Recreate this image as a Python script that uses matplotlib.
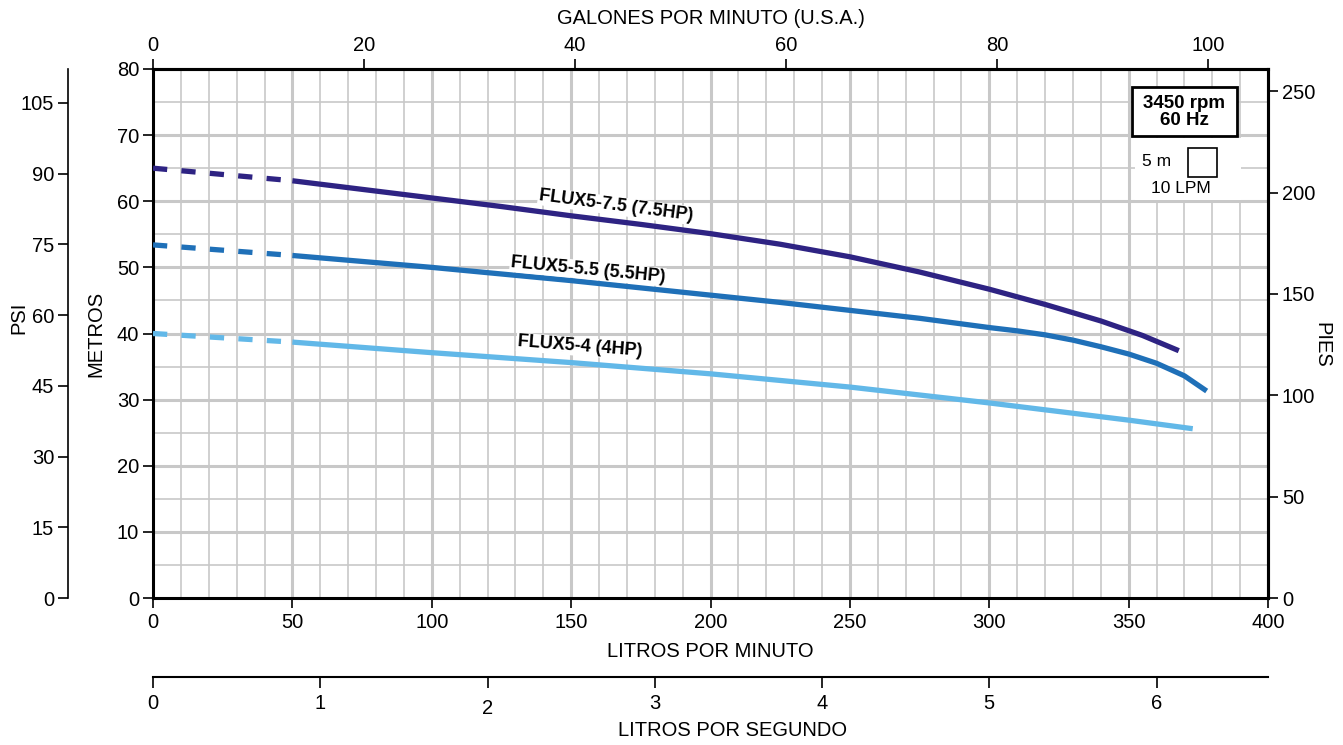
import matplotlib
matplotlib.use("Agg")
import matplotlib.pyplot as plt
from matplotlib.patches import Rectangle
from matplotlib.transforms import ScaledTranslation

# ---------------- data ----------------
lpm_75 = [0, 50, 100, 125, 150, 175, 200, 225, 250, 275, 300, 320, 340, 355, 368]
m_75 = [65.0, 63.1, 60.5, 59.2, 57.8, 56.5, 55.1, 53.5, 51.6, 49.3, 46.7, 44.4, 41.9, 39.7, 37.4]
lpm_55 = [0, 50, 100, 150, 200, 225, 250, 275, 300, 310, 320, 330, 340, 350, 360, 370, 378]
m_55 = [53.4, 51.8, 50.0, 48.0, 45.8, 44.7, 43.5, 42.3, 40.9, 40.4, 39.8, 39.0, 38.0, 36.9, 35.5, 33.6, 31.3]
lpm_4 = [0, 50, 100, 150, 200, 250, 275, 300, 325, 350, 373]
m_4 = [40.0, 38.7, 37.1, 35.6, 33.9, 31.9, 30.7, 29.5, 28.2, 26.9, 25.6]

series_names = ["FLUX5-7.5 (7.5HP)", "FLUX5-5.5 (5.5HP)", "FLUX5-4 (4HP)"]
series_colors = ["#2e2383", "#1f70b8", "#62b8e8"]

lpm_ticks = [0, 50, 100, 150, 200, 250, 300, 350, 400]
m_ticks = [0, 10, 20, 30, 40, 50, 60, 70, 80]
gpm_ticks = [0, 20, 40, 60, 80, 100]
ft_ticks = [0, 50, 100, 150, 200, 250]
psi_ticks = [0, 15, 30, 45, 60, 75, 90, 105]
lps_ticks = [0, 1, 2, 3, 4, 5, 6]

LPM_PER_GPM = 3.785
M_PER_FT = 0.3065
M_PER_PSI = 0.713
LPM_PER_LPS = 60.0

FONT = ["Liberation Sans Narrow", "Liberation Sans", "DejaVu Sans"]
TICK_FS = 14.5
TITLE_FS = 14.5

W, H = 1343, 745
fig = plt.figure(figsize=(W / 100, H / 100), dpi=100)

def fx(px):
    return px / W

def fy(py):
    return 1 - py / H

ax_l, ax_r, ax_t, ax_b = 153, 1268, 69, 598
ax = fig.add_axes([fx(ax_l), fy(ax_b), (ax_r - ax_l) / W, (ax_b - ax_t) / H])
ax.set_xlim(0, 400)
ax.set_ylim(0, 80)

# grid
for x in range(10, 400, 10):
    major = (x % 50 == 0)
    ax.axvline(x, color="#c8c8c8", lw=2.2 if major else 1.2, zorder=0)
for y in range(5, 80, 5):
    major = (y % 10 == 0)
    ax.axhline(y, color="#c8c8c8", lw=2.2 if major else 1.2, zorder=0)

# curves: dashed up to 50 LPM, then solid
for xs, ys, c in [(lpm_75, m_75, series_colors[0]),
                  (lpm_55, m_55, series_colors[1]),
                  (lpm_4, m_4, series_colors[2])]:
    ax.plot(xs[:2], ys[:2], color=c, lw=3.8, ls=(0, (2.7, 2.7)),
            dash_capstyle="butt", zorder=3)
    ax.plot(xs[1:], ys[1:], color=c, lw=3.8, solid_capstyle="butt",
            solid_joinstyle="round", zorder=3)

# curve labels
lab_pos = [(166, 59.3, -7.5), (156, 49.6, -5.5), (153, 38.0, -4.5)]
for name, (x, y, r) in zip(series_names, lab_pos):
    ax.text(x, y, name, rotation=r, ha="center", va="center", fontsize=13,
            fontweight="bold", family=FONT, zorder=4,
            bbox=dict(facecolor="white", edgecolor="none", pad=0.5))

# spines / ticks
for s in ax.spines.values():
    s.set_linewidth(2.2)
    s.set_color("black")
ax.set_xticks(lpm_ticks)
ax.set_yticks(m_ticks)
ax.tick_params(axis="both", direction="out", length=7, width=1.2,
               labelsize=TICK_FS, pad=3)
ax.tick_params(axis="x", pad=4)
for lab in ax.get_xticklabels() + ax.get_yticklabels():
    lab.set_family(FONT)
ax.set_xlabel("LITROS POR MINUTO", fontsize=TITLE_FS, family=FONT, labelpad=7)
ax.set_ylabel("METROS", fontsize=TITLE_FS, family=FONT, labelpad=8)

# top GPM axis
top = ax.secondary_xaxis("top", functions=(lambda v: v / LPM_PER_GPM,
                                           lambda v: v * LPM_PER_GPM))
top.set_xticks(gpm_ticks)
top.tick_params(direction="out", length=7, width=1.2, labelsize=TICK_FS, pad=3)
for lab in top.get_xticklabels():
    lab.set_family(FONT)
top.spines["top"].set_linewidth(2.2)
top.set_xlabel("GALONES POR MINUTO (U.S.A.)", fontsize=TITLE_FS, family=FONT,
               labelpad=9)

# right feet axis
right = ax.secondary_yaxis("right", functions=(lambda v: v / M_PER_FT,
                                               lambda v: v * M_PER_FT))
right.set_yticks(ft_ticks)
right.tick_params(direction="out", length=7, width=1.2, labelsize=TICK_FS, pad=3)
for lab in right.get_yticklabels():
    lab.set_family(FONT)
right.spines["right"].set_linewidth(2.2)
fig.text(fx(1322), fy(345), "PIES", rotation=270, ha="center", va="center",
         fontsize=TITLE_FS, family=FONT)

# legend box (rpm/Hz and scale square)
ax.add_patch(Rectangle((0.881, 0.752), 0.095, 0.118, transform=ax.transAxes,
                       facecolor="white", edgecolor="none", zorder=4))
ax.add_patch(Rectangle((0.878, 0.873), 0.094, 0.093, transform=ax.transAxes,
                       facecolor="white", edgecolor="black", lw=2.0, zorder=5))
ax.text(0.925, 0.919, "3450 rpm\n60 Hz", transform=ax.transAxes, ha="center",
        va="center", fontsize=13.5, fontweight="bold", family=FONT,
        linespacing=1.0, zorder=6)
ax.add_patch(Rectangle((0.928, 0.796), 0.026, 0.055, transform=ax.transAxes,
                       facecolor="white", edgecolor="black", lw=1.2, zorder=5))
ax.text(0.900, 0.826, "5 m", transform=ax.transAxes, ha="center", va="center",
        fontsize=12.5, family=FONT, zorder=6)
ax.text(0.922, 0.774, "10 LPM", transform=ax.transAxes, ha="center",
        va="center", fontsize=12.5, family=FONT, zorder=6)

# PSI axis on the far left
psi_x = 68
ax_psi = fig.add_axes([fx(psi_x), fy(ax_b), 0.0005, (ax_b - ax_t) / H])
ax_psi.set_ylim(0, 80 / M_PER_PSI)
ax_psi.set_xticks([])
ax_psi.set_yticks(psi_ticks)
for k in ["top", "right", "bottom"]:
    ax_psi.spines[k].set_visible(False)
ax_psi.spines["left"].set_linewidth(1.2)
ax_psi.patch.set_visible(False)
ax_psi.tick_params(axis="y", direction="out", length=7, width=1.2,
                   labelsize=TICK_FS, pad=3)
for lab in ax_psi.get_yticklabels():
    lab.set_family(FONT)
fig.text(fx(19), fy(318), "PSI", rotation=90, ha="center", va="center",
         fontsize=TITLE_FS, family=FONT)

# LPS axis at the bottom
lps_y = 677
ax_lps = fig.add_axes([fx(ax_l), fy(lps_y), (ax_r - ax_l) / W, 0.0005])
ax_lps.set_xlim(0, 400 / LPM_PER_LPS)
ax_lps.set_yticks([])
ax_lps.set_xticks(lps_ticks)
for k in ["top", "right", "left"]:
    ax_lps.spines[k].set_visible(False)
ax_lps.spines["bottom"].set_linewidth(1.5)
ax_lps.patch.set_visible(False)
ax_lps.tick_params(axis="x", direction="out", length=8, width=1.2,
                   labelsize=TICK_FS, pad=4)
for i, lab in enumerate(ax_lps.get_xticklabels()):
    lab.set_family(FONT)
    if lps_ticks[i] == 2:
        lab.set_transform(lab.get_transform() +
                          ScaledTranslation(0, -5 / 100, fig.dpi_scale_trans))
fig.text(fx(733), fy(731), "LITROS POR SEGUNDO", ha="center", va="center",
         fontsize=TITLE_FS, family=FONT)

fig.savefig("out.png", dpi=100)
